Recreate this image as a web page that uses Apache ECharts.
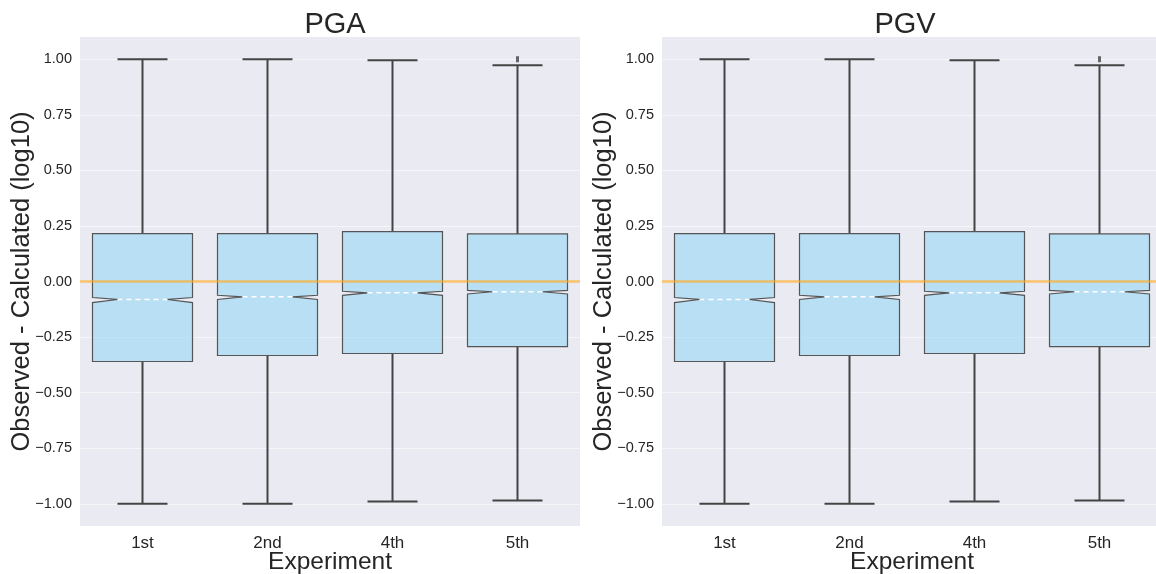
<!DOCTYPE html>
<html>
<head>
<meta charset="utf-8">
<script src="https://cdn.jsdelivr.net/npm/echarts@6/dist/echarts.min.js"></script>
<style>
  html, body { margin: 0; padding: 0; background: #fff; }
  #chart { width: 1156px; height: 574px; }
</style>
</head>
<body>
<div id="chart"></div>
<script>
// categories on x
const categories = ["1st", "2nd", "4th", "5th"];
const yTicks = [-1.0, -0.75, -0.5, -0.25, 0, 0.25, 0.5, 0.75, 1.0];

// PGA box stats
const pgaMin = [-1.0, -1.0, -0.99, -0.985];
const pgaQ1 = [-0.36, -0.333, -0.324, -0.293];
const pgaNotchLo = [-0.095, -0.081, -0.062, -0.056];
const pgaMed = [-0.081, -0.069, -0.051, -0.046];
const pgaNotchHi = [-0.072, -0.062, -0.044, -0.04];
const pgaQ3 = [0.215, 0.215, 0.224, 0.214];
const pgaMax = [1.0, 1.0, 0.995, 0.973];
const pgaFliers = [[3, 1.0]];

// PGV box stats
const pgvMin = [-1.0, -1.0, -0.99, -0.985];
const pgvQ1 = [-0.36, -0.333, -0.324, -0.293];
const pgvNotchLo = [-0.095, -0.081, -0.062, -0.056];
const pgvMed = [-0.081, -0.069, -0.051, -0.046];
const pgvNotchHi = [-0.072, -0.062, -0.044, -0.04];
const pgvQ3 = [0.215, 0.215, 0.224, 0.214];
const pgvMax = [1.0, 1.0, 0.995, 0.973];
const pgvFliers = [[3, 1.0]];

const FONT = "Liberation Sans, Arial, sans-serif";

function rows(mn, q1, nlo, med, nhi, q3, mx) {
  return categories.map((c, i) => [i, mn[i], q1[i], nlo[i], med[i], nhi[i], q3[i], mx[i]]);
}

function renderBox(params, api) {
  const i = api.value(0);
  const band = api.size([1, 0])[0];
  const cx = api.coord([i, 0])[0];
  const half = band * 0.4;
  const d = half * 0.5;
  const y = k => api.coord([i, api.value(k)])[1];
  const yMin = y(1), yQ1 = y(2), yNlo = y(3), yMed = y(4), yNhi = y(5), yQ3 = y(6), yMax = y(7);
  const L = cx - half, R = cx + half;
  const line = "#444";
  return {
    type: "group",
    children: [
      { type: "line", shape: { x1: cx, y1: yQ3, x2: cx, y2: yMax }, style: { stroke: line, lineWidth: 2 } },
      { type: "line", shape: { x1: cx, y1: yQ1, x2: cx, y2: yMin }, style: { stroke: line, lineWidth: 2 } },
      { type: "line", shape: { x1: cx - half / 2, y1: yMax, x2: cx + half / 2, y2: yMax }, style: { stroke: line, lineWidth: 2 } },
      { type: "line", shape: { x1: cx - half / 2, y1: yMin, x2: cx + half / 2, y2: yMin }, style: { stroke: line, lineWidth: 2 } },
      {
        type: "polygon",
        shape: {
          points: [
            [L, yQ3], [R, yQ3], [R, yNhi], [R - d, yMed], [R, yNlo], [R, yQ1],
            [L, yQ1], [L, yNlo], [L + d, yMed], [L, yNhi]
          ]
        },
        style: { fill: "rgba(150,215,245,0.6)", stroke: "#555", lineWidth: 1.2 }
      },
      { type: "line", shape: { x1: L + d, y1: yMed, x2: R - d, y2: yMed }, style: { stroke: "#fff", lineWidth: 1.5, lineDash: [5, 4] } }
    ]
  };
}

const yAxisBase = {
  type: "value",
  min: -1.1,
  max: 1.1,
  axisLine: { show: false },
  axisTick: { show: false, customValues: yTicks },
  axisLabel: {
    customValues: yTicks,
    fontFamily: FONT,
    fontSize: 14.5,
    color: "#262626",
    margin: 8,
    formatter: v => (v < 0 ? "\u2212" : "") + Math.abs(v).toFixed(2)
  },
  splitLine: { show: true, lineStyle: { color: "rgba(255,255,255,0.55)", width: 1 } },
  name: "Observed - Calculated (log10)",
  nameLocation: "middle",
  nameMoveOverlap: false,
  nameGap: 45,
  nameTextStyle: { fontFamily: FONT, fontSize: 25.5, color: "#262626" }
};

const xAxisBase = {
  type: "category",
  data: categories,
  axisLine: { show: false },
  axisTick: { show: false },
  splitLine: { show: false },
  axisLabel: { fontFamily: FONT, fontSize: 17, color: "#262626", margin: 9 },
  name: "Experiment",
  nameLocation: "middle",
  nameMoveOverlap: false,
  nameGap: 24,
  nameTextStyle: { fontFamily: FONT, fontSize: 24.5, color: "#262626" }
};

const zeroLine = {
  silent: true,
  symbol: "none",
  label: { show: false },
  lineStyle: { color: "rgba(255,170,30,0.65)", width: 2.5, type: "solid" },
  data: [{ yAxis: 0 }]
};

const option = {
  animation: false,
  backgroundColor: "#ffffff",
  title: [
    { text: "PGA", left: 330, top: 5, textAlign: "center", textStyle: { fontFamily: FONT, fontSize: 29, fontWeight: "normal", color: "#262626" } },
    { text: "PGV", left: 900, top: 5, textAlign: "center", textStyle: { fontFamily: FONT, fontSize: 29, fontWeight: "normal", color: "#262626" } }
  ],
  grid: [
    { left: 80, top: 37, width: 500, height: 489, show: true, backgroundColor: "#eaeaf2", borderWidth: 0, outerBoundsMode: "none", containLabel: false },
    { left: 662, top: 37, width: 500, height: 489, show: true, backgroundColor: "#eaeaf2", borderWidth: 0, outerBoundsMode: "none", containLabel: false }
  ],
  xAxis: [
    Object.assign({}, xAxisBase, { gridIndex: 0 }),
    Object.assign({}, xAxisBase, { gridIndex: 1 })
  ],
  yAxis: [
    Object.assign({}, yAxisBase, { gridIndex: 0 }),
    Object.assign({}, yAxisBase, { gridIndex: 1 })
  ],
  series: [
    {
      name: "PGA",
      type: "custom",
      xAxisIndex: 0,
      yAxisIndex: 0,
      renderItem: renderBox,
      encode: { x: 0, y: [1, 2, 3, 4, 5, 6, 7] },
      data: rows(pgaMin, pgaQ1, pgaNotchLo, pgaMed, pgaNotchHi, pgaQ3, pgaMax),
      markLine: zeroLine,
      z: 2
    },
    {
      name: "PGV",
      type: "custom",
      xAxisIndex: 1,
      yAxisIndex: 1,
      renderItem: renderBox,
      encode: { x: 0, y: [1, 2, 3, 4, 5, 6, 7] },
      data: rows(pgvMin, pgvQ1, pgvNotchLo, pgvMed, pgvNotchHi, pgvQ3, pgvMax),
      markLine: zeroLine,
      z: 2
    },
    {
      type: "scatter", xAxisIndex: 0, yAxisIndex: 0, data: pgaFliers,
      symbol: "rect", symbolSize: [3, 6], itemStyle: { color: "#444" }, silent: true, z: 3
    },
    {
      type: "scatter", xAxisIndex: 1, yAxisIndex: 1, data: pgvFliers,
      symbol: "rect", symbolSize: [3, 6], itemStyle: { color: "#444" }, silent: true, z: 3
    }
  ]
};

const chart = echarts.init(document.getElementById("chart"));
chart.setOption(option);
</script>
</body>
</html>
